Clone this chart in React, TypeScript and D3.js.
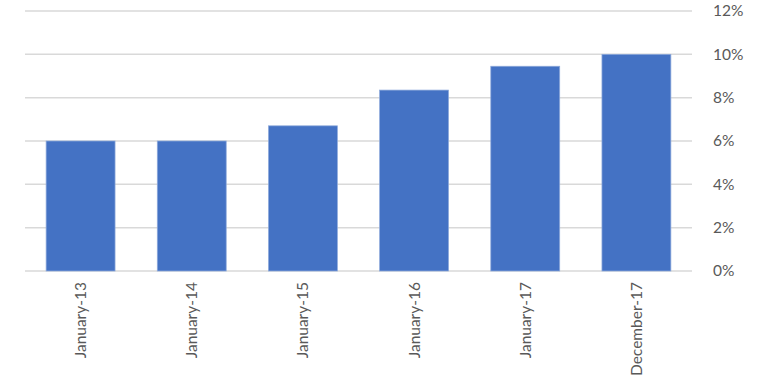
import React, { useEffect, useRef } from "react";
import * as d3 from "d3";

const categories = ["January-13", "January-14", "January-15", "January-16", "January-17", "December-17"];
const values = [6, 6, 6.7, 8.35, 9.45, 10];
const yTicks = [0, 2, 4, 6, 8, 10, 12];

const W = 768;
const H = 384;
const margin = { top: 11, right: 76, bottom: 113, left: 25 };

export default function App() {
  const ref = useRef<SVGSVGElement | null>(null);

  useEffect(() => {
    const svg = d3.select(ref.current);
    svg.selectAll("*").remove();

    const x = d3
      .scaleBand<string>()
      .domain(categories)
      .range([margin.left, W - margin.right])
      .paddingInner(0.38)
      .paddingOuter(0.19);

    const y = d3
      .scaleLinear()
      .domain([0, 12])
      .range([H - margin.bottom, margin.top]);

    // horizontal gridlines
    svg
      .append("g")
      .selectAll("line")
      .data(yTicks)
      .join("line")
      .attr("x1", margin.left)
      .attr("x2", W - margin.right)
      .attr("y1", (d) => y(d))
      .attr("y2", (d) => y(d))
      .attr("stroke", "#d9d9d9")
      .attr("stroke-width", 1.5);

    // bars
    svg
      .append("g")
      .selectAll("rect")
      .data(values)
      .join("rect")
      .attr("x", (_, i) => x(categories[i])!)
      .attr("width", x.bandwidth())
      .attr("y", (d) => y(d))
      .attr("height", (d) => y(0) - y(d))
      .attr("fill", "#4472c4")
      .attr("stroke", "#8eaadb")
      .attr("stroke-width", 0.75);

    // right-side value axis labels
    svg
      .append("g")
      .selectAll("text")
      .data(yTicks)
      .join("text")
      .attr("x", 713)
      .attr("y", (d) => y(d))
      .attr("dy", "0.35em")
      .attr("font-family", "Lato, 'Open Sans', sans-serif")
      .attr("font-size", 15.5)
      .attr("fill", "#595959")
      .text((d) => `${d}%`);

    // rotated category labels
    svg
      .append("g")
      .selectAll("text")
      .data(categories)
      .join("text")
      .attr(
        "transform",
        (d) => `translate(${x(d)! + x.bandwidth() / 2}, ${y(0) + 11}) rotate(-90)`
      )
      .attr("text-anchor", "end")
      .attr("dy", "0.35em")
      .attr("font-family", "Lato, 'Open Sans', sans-serif")
      .attr("font-size", 15.5)
      .attr("fill", "#595959")
      .text((d) => d);
  }, []);

  return (
    <svg
      ref={ref}
      width={W}
      height={H}
      style={{ position: "absolute", left: 0, top: 0, background: "#fff" }}
    />
  );
}
